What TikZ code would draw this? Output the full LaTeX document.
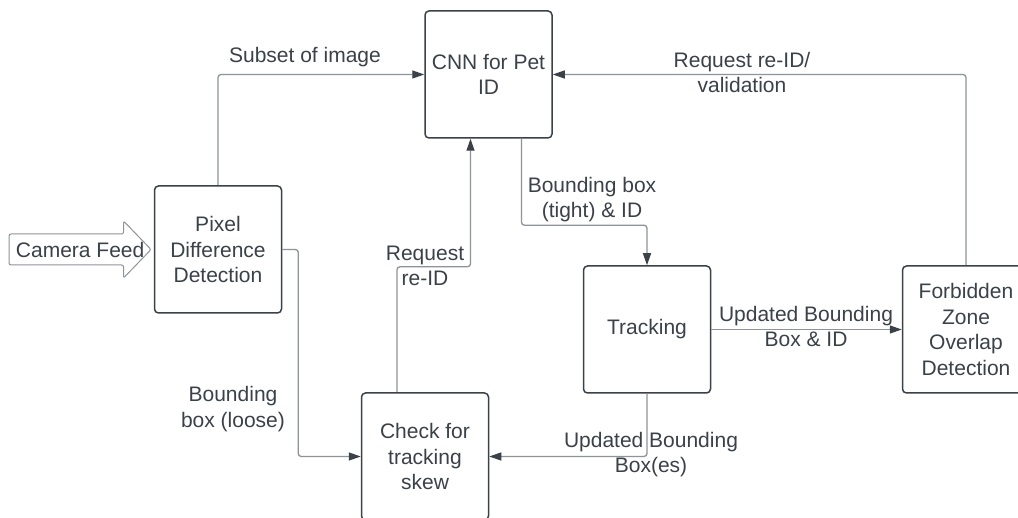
\documentclass[tikz,border=0pt]{standalone}
\usepackage{fontspec}
\setmainfont{Liberation Sans}
\usepackage{tikz}
\usetikzlibrary{arrows.meta,shapes.arrows,calc}
\definecolor{boxLine}{HTML}{3B4149}
\definecolor{flowLine}{HTML}{8E939A}
\definecolor{labelText}{HTML}{3B4149}
\newcommand{\stageSize}{127pt}
\newcommand{\labelFont}{\fontsize{21}{25.5}\selectfont}

\tikzset{
  stage/.style={draw=boxLine, line width=1.5pt, rounded corners=4pt,
    minimum width=\stageSize, minimum height=\stageSize, inner sep=0pt,
    align=center, text=labelText, font=\labelFont},
  flow/.style={draw=flowLine, line width=1.3pt, rounded corners=3pt,
    -{Triangle[length=12pt,width=8pt,color=boxLine]}},
  flowLabel/.style={align=center, text=labelText, font=\labelFont, inner sep=0pt},
  feedArrow/.style={single arrow, draw=flowLine, line width=1pt, rounded corners=2pt,
    inner xsep=0pt, inner ysep=15pt, minimum height=142pt,
    single arrow head extend=13pt, single arrow tip angle=92}
}

\begin{document}
\begin{tikzpicture}[x=1pt, y=-1pt]
\useasboundingbox[fill=white] (0,0) rectangle (1018,518);

\node[stage] (cnn) at (488.5,74.5) {CNN for Pet\\ID};
\node[stage] (pixel) at (218,249.5) {Pixel\\Difference\\Detection};
\node[stage] (check) at (425,456.5) {Check for\\tracking\\skew};
\node[stage] (track) at (647,329.5) {Tracking};
\node[stage] (forbid) at (966,329.5) {Forbidden\\Zone\\Overlap\\Detection};

\node[feedArrow, anchor=tip] (feed) at ([xshift=-2pt]pixel.west) {};
\node[flowLabel] (feedText) at ($(feed.tail)!0.5!(feed.tip)$) {Camera Feed};

\draw[flow] (pixel.north) |- (cnn.west);
\draw[flow] (forbid.north) |- (cnn.east);
\draw[flow] ([xshift=33pt]cnn.south) |- ([yshift=40pt]track.north) -- (track.north);
\draw[flow] ([xshift=-28pt]check.north) |- ([xshift=-18pt,yshift=-128pt]cnn.south) -- ([xshift=-18pt]cnn.south);
\draw[flow] (pixel.east) -- ++(16,0) |- (check.west);
\draw[flow] (track.south) |- (check.east);
\draw[flow] (track.east) -- (forbid.west);

\node[flowLabel] (subsetText) at (305,57) {Subset of image};
\node[flowLabel] (revalText) at (742,72.5) {Request re-ID/\\validation};
\node[flowLabel] (tightText) at (592,199.5) {Bounding box\\(tight) \& ID};
\node[flowLabel] (reidText) at (425,266) {Request\\re-ID};
\node[flowLabel] (updIdText) at (806,326.5) {Updated Bounding\\Box \& ID};
\node[flowLabel] (looseText) at (233,409) {Bounding\\box (loose)};
\node[flowLabel] (updBoxText) at (651,454.5) {Updated Bounding\\Box(es)};
\end{tikzpicture}
\end{document}
